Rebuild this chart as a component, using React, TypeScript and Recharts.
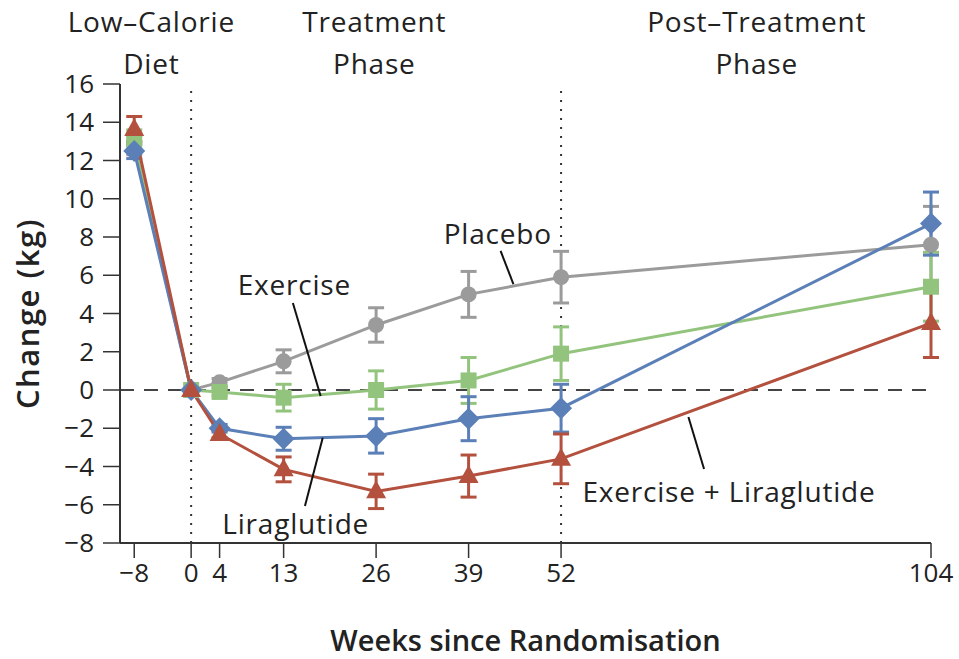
import { ComposedChart, Line, XAxis, YAxis, ReferenceLine, ReferenceDot, ErrorBar } from 'recharts';

const weeks = [-8, 0, 4, 13, 26, 39, 52, 104];
const yTicks = [-8, -6, -4, -2, 0, 2, 4, 6, 8, 10, 12, 14, 16];

const placebo = [12.8, 0, 0.4, 1.5, 3.4, 5.0, 5.9, 7.6];
const placeboErr = [0.5, 0, 0.2, 0.6, 0.9, 1.2, 1.35, 2.0];
const exercise = [13.1, 0, -0.1, -0.4, 0.0, 0.5, 1.9, 5.4];
const exerciseErr = [0.5, 0, 0.2, 0.7, 1.0, 1.2, 1.4, 1.8];
const liraglutide = [12.5, 0, -2.0, -2.55, -2.4, -1.5, -0.95, 8.7];
const liraglutideErr = [0.4, 0, 0.2, 0.6, 0.9, 1.15, 1.25, 1.65];
const combined = [13.65, 0, -2.3, -4.15, -5.3, -4.5, -3.6, 3.5];
const combinedErr = [0.65, 0, 0.2, 0.65, 0.9, 1.1, 1.3, 1.8];

const phaseLabels = [
  { x: -5.6, lines: ['Low\u2013Calorie', 'Diet'] },
  { x: 25.75, lines: ['Treatment', 'Phase'] },
  { x: 79.5, lines: ['Post\u2013Treatment', 'Phase'] },
];

const seriesLabels = [
  { text: 'Placebo', x: 43.1, y: 8.2, from: [43.5, 7.27], to: [45.3, 5.54] },
  { text: 'Exercise', x: 14.5, y: 5.54, from: [14.3, 4.55], to: [18.2, -0.31] },
  { text: 'Liraglutide', x: 14.7, y: -6.95, from: [16.0, -6.07], to: [18.5, -2.5] },
  { text: 'Exercise + Liraglutide', x: 75.6, y: -5.3, from: [69.9, -1.41], to: [72.1, -4.13] },
];

const data = weeks.map((w, i) => ({
  week: w,
  placebo: placebo[i],
  placeboErr: placeboErr[i],
  exercise: exercise[i],
  exerciseErr: exerciseErr[i],
  liraglutide: liraglutide[i],
  liraglutideErr: liraglutideErr[i],
  combined: combined[i],
  combinedErr: combinedErr[i],
}));

const FONT = '"Open Sans", "DejaVu Sans", sans-serif';
const INK = '#222';

const GRAY = '#9b9b9b';
const GREEN = '#93c47d';
const BLUE = '#5b7fb7';
const RED = '#b3513e';

const circleDot = (color: string) => (p: any) => (
  <circle key={p.key} cx={p.cx} cy={p.cy} r={8} fill={color} />
);
const squareDot = (color: string) => (p: any) => (
  <rect key={p.key} x={p.cx - 8} y={p.cy - 8} width={16} height={16} fill={color} />
);
const diamondDot = (color: string) => (p: any) => (
  <path key={p.key} d={`M${p.cx},${p.cy - 11}L${p.cx + 11},${p.cy}L${p.cx},${p.cy + 11}L${p.cx - 11},${p.cy}Z`} fill={color} />
);
const triangleDot = (color: string) => (p: any) => (
  <path key={p.key} d={`M${p.cx},${p.cy - 11}L${p.cx + 10},${p.cy + 7}L${p.cx - 10},${p.cy + 7}Z`} fill={color} />
);

const fmt = (v: number) => String(v).replace('-', '\u2212');

export default function App() {
  return (
    <div style={{ position: 'absolute', left: 0, top: 0, width: 959, height: 659, background: '#fff' }}>
      <ComposedChart width={959} height={659} data={data} margin={{ top: 84, right: 28, bottom: 0, left: 0 }}>
        <XAxis
          type="number"
          dataKey="week"
          domain={[-10, 104]}
          ticks={weeks}
          height={116}
          tickSize={15}
          tickMargin={6}
          tickFormatter={fmt}
          axisLine={{ stroke: '#333', strokeWidth: 2 }}
          tickLine={{ stroke: '#333', strokeWidth: 1.5 }}
          tick={{ fontSize: 26, fill: INK, fontFamily: FONT }}
          label={{ value: 'Weeks since Randomisation', position: 'insideBottom', offset: 8, style: { fontSize: 29, fill: INK, fontFamily: FONT, fontWeight: 600 } }}
        />
        <YAxis
          type="number"
          domain={[-8, 16]}
          ticks={yTicks}
          width={120}
          tickSize={17}
          tickMargin={9}
          tickFormatter={fmt}
          axisLine={{ stroke: '#333', strokeWidth: 2 }}
          tickLine={{ stroke: '#333', strokeWidth: 1.5 }}
          tick={{ fontSize: 26, fill: INK, fontFamily: FONT }}
          label={{ value: 'Change (kg)', angle: -90, position: 'insideLeft', offset: 28, style: { textAnchor: 'middle', fontSize: 31, fill: INK, fontFamily: FONT, fontWeight: 600, letterSpacing: 1.5 } }}
        />
        <ReferenceLine x={0} stroke="#333" strokeWidth={2} strokeDasharray="2 7" />
        <ReferenceLine x={52} stroke="#333" strokeWidth={2} strokeDasharray="2 7" />
        <ReferenceLine y={0} stroke="#444" strokeWidth={2} strokeDasharray="14 10" />

        <Line dataKey="placebo" stroke={GRAY} strokeWidth={3} dot={circleDot(GRAY)} isAnimationActive={false}>
          <ErrorBar dataKey="placeboErr" direction="y" stroke={GRAY} strokeWidth={3} width={8} />
        </Line>
        <Line dataKey="exercise" stroke={GREEN} strokeWidth={3} dot={squareDot(GREEN)} isAnimationActive={false}>
          <ErrorBar dataKey="exerciseErr" direction="y" stroke={GREEN} strokeWidth={3} width={8} />
        </Line>
        <Line dataKey="liraglutide" stroke={BLUE} strokeWidth={3} dot={diamondDot(BLUE)} isAnimationActive={false}>
          <ErrorBar dataKey="liraglutideErr" direction="y" stroke={BLUE} strokeWidth={3} width={8} />
        </Line>
        <Line dataKey="combined" stroke={RED} strokeWidth={3} dot={triangleDot(RED)} isAnimationActive={false}>
          <ErrorBar dataKey="combinedErr" direction="y" stroke={RED} strokeWidth={3} width={8} />
        </Line>

        {seriesLabels.map((s) => (
          <ReferenceLine
            key={'l' + s.text}
            segment={[{ x: s.from[0], y: s.from[1] }, { x: s.to[0], y: s.to[1] }]}
            stroke="#111"
            strokeWidth={2}
            ifOverflow="visible"
          />
        ))}
        {seriesLabels.map((s) => (
          <ReferenceDot
            key={'t' + s.text}
            x={s.x}
            y={s.y}
            ifOverflow="visible"
            shape={(p: any) => (
              <text x={p.cx} y={p.cy} textAnchor="middle" dominantBaseline="central" fontSize={28} letterSpacing={0.8} fill={INK} fontFamily={FONT}>
                {s.text}
              </text>
            )}
          />
        ))}
        {phaseLabels.map((h) => (
          <ReferenceDot
            key={'h' + h.x}
            x={h.x}
            y={19.3}
            ifOverflow="visible"
            shape={(p: any) => (
              <text x={p.cx} y={p.cy} textAnchor="middle" dominantBaseline="central" fontSize={28} letterSpacing={0.8} fill={INK} fontFamily={FONT}>
                <tspan x={p.cx}>{h.lines[0]}</tspan>
                <tspan x={p.cx} dy={42}>{h.lines[1]}</tspan>
              </text>
            )}
          />
        ))}
      </ComposedChart>
    </div>
  );
}
